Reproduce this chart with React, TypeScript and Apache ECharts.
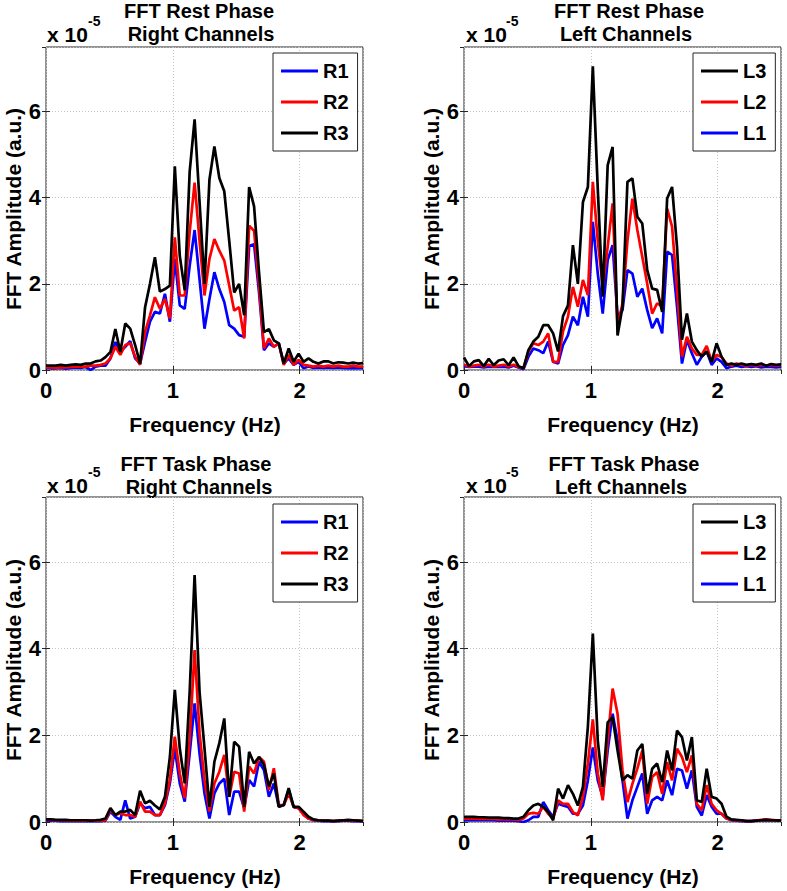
import React, { useEffect, useRef } from "react";
import * as echarts from "echarts";

// FFT bin frequencies (Hz)
const FREQS = [
  0, 0.039, 0.078, 0.117, 0.156, 0.195, 0.234, 0.273, 0.313, 0.352, 0.391, 0.43, 0.469,
  0.508, 0.547, 0.586, 0.625, 0.664, 0.703, 0.742, 0.781, 0.82, 0.859, 0.898, 0.938, 0.977,
  1.016, 1.055, 1.094, 1.133, 1.172, 1.211, 1.25, 1.289, 1.328, 1.367, 1.406, 1.445, 1.484,
  1.523, 1.563, 1.602, 1.641, 1.68, 1.719, 1.758, 1.797, 1.836, 1.875, 1.914, 1.953, 1.992,
  2.031, 2.07, 2.109, 2.148, 2.188, 2.227, 2.266, 2.305, 2.344, 2.383, 2.422, 2.461, 2.5,
];

// Amplitudes in units of 1e-5
const REST_R3 = [
  0.10, 0.10, 0.10, 0.12, 0.10, 0.12, 0.13, 0.12, 0.15, 0.15, 0.20, 0.22, 0.30,
  0.42, 0.95, 0.42, 1.08, 0.96, 0.58, 0.15, 1.45, 2.00, 2.62, 1.82, 1.88, 1.96,
  4.73, 2.65, 1.85, 4.60, 5.82, 3.90, 2.00, 4.42, 5.19, 4.46, 4.15, 3.00, 1.80,
  2.00, 1.27, 4.25, 3.80, 2.27, 0.88, 0.95, 0.69, 0.62, 0.15, 0.50, 0.19, 0.38,
  0.19, 0.27, 0.19, 0.15, 0.20, 0.20, 0.15, 0.18, 0.17, 0.15, 0.17, 0.15, 0.16,
];
const REST_R2 = [
  0.06, 0.06, 0.05, 0.06, 0.06, 0.07, 0.08, 0.08, 0.08, 0.10, 0.10, 0.12, 0.15,
  0.27, 0.54, 0.35, 0.58, 0.62, 0.31, 0.12, 0.88, 1.27, 1.69, 1.42, 1.65, 1.19,
  3.08, 1.73, 1.73, 3.20, 4.35, 3.00, 1.73, 2.58, 3.04, 2.77, 2.54, 1.96, 1.38,
  1.46, 0.73, 3.35, 3.23, 1.96, 0.50, 0.73, 0.54, 0.62, 0.12, 0.35, 0.12, 0.23,
  0.12, 0.10, 0.08, 0.10, 0.08, 0.10, 0.08, 0.10, 0.08, 0.08, 0.10, 0.08, 0.08,
];
const REST_R1 = [
  0.05, 0.04, 0.04, 0.05, 0.03, 0.05, 0.06, 0.05, 0.07, 0.00, 0.08, 0.10, 0.10,
  0.27, 0.65, 0.42, 0.54, 0.67, 0.27, 0.15, 0.65, 1.12, 1.35, 1.31, 1.77, 1.12,
  2.58, 1.50, 1.42, 2.42, 3.25, 2.10, 0.96, 1.65, 2.27, 1.88, 1.58, 1.04, 0.96,
  0.81, 0.77, 2.88, 2.92, 1.80, 0.46, 0.62, 0.54, 0.62, 0.15, 0.27, 0.12, 0.19,
  0.04, 0.08, 0.05, 0.06, 0.05, 0.06, 0.05, 0.06, 0.05, 0.04, 0.05, 0.04, 0.05,
];
const REST_L3 = [
  0.29, 0.09, 0.20, 0.23, 0.09, 0.26, 0.11, 0.22, 0.25, 0.11, 0.29, 0.09, 0.04,
  0.46, 0.66, 0.77, 1.04, 1.04, 0.85, 0.43, 1.25, 1.50, 2.90, 2.00, 3.90, 4.25,
  7.05, 4.20, 1.70, 4.75, 5.18, 0.80, 1.47, 4.37, 4.45, 3.56, 3.40, 2.32, 1.89,
  1.86, 1.35, 3.98, 4.25, 2.86, 0.70, 1.31, 0.66, 0.46, 0.31, 0.43, 0.19, 0.62,
  0.31, 0.12, 0.15, 0.12, 0.15, 0.12, 0.14, 0.12, 0.15, 0.10, 0.14, 0.12, 0.13,
];
const REST_L2 = [
  0.12, 0.08, 0.10, 0.12, 0.08, 0.12, 0.08, 0.10, 0.12, 0.08, 0.12, 0.07, 0.04,
  0.43, 0.62, 0.58, 0.66, 0.85, 0.19, 0.19, 0.90, 1.24, 1.93, 1.47, 2.09, 1.74,
  4.37, 3.00, 1.93, 2.86, 3.87, 1.00, 1.55, 3.00, 3.98, 3.25, 2.63, 2.00, 1.31,
  1.55, 1.47, 3.75, 3.33, 1.86, 0.31, 0.77, 0.50, 0.35, 0.35, 0.56, 0.20, 0.35,
  0.30, 0.15, 0.10, 0.15, 0.12, 0.10, 0.12, 0.10, 0.12, 0.10, 0.12, 0.10, 0.12,
];
const REST_L1 = [
  0.09, 0.07, 0.08, 0.08, 0.06, 0.08, 0.07, 0.07, 0.08, 0.06, 0.10, 0.06, 0.02,
  0.31, 0.50, 0.46, 0.39, 0.66, 0.19, 0.15, 0.58, 0.81, 1.24, 1.04, 1.70, 1.24,
  3.44, 2.24, 1.31, 2.55, 2.90, 1.24, 1.39, 2.32, 2.24, 1.70, 1.89, 1.39, 0.97,
  1.20, 0.85, 2.75, 2.67, 1.47, 0.15, 0.70, 0.39, 0.12, 0.31, 0.43, 0.12, 0.27,
  0.19, 0.04, 0.08, 0.10, 0.07, 0.09, 0.07, 0.09, 0.06, 0.08, 0.07, 0.06, 0.07,
];
const TASK_R3 = [
  0.06, 0.06, 0.05, 0.05, 0.05, 0.04, 0.04, 0.04, 0.04, 0.03, 0.04, 0.05, 0.08,
  0.32, 0.16, 0.24, 0.24, 0.28, 0.16, 0.72, 0.43, 0.49, 0.38, 0.29, 0.58, 1.50,
  3.05, 1.70, 0.89, 3.00, 5.70, 3.00, 1.70, 0.35, 1.39, 1.82, 2.39, 0.58, 1.85,
  1.74, 0.35, 1.62, 1.35, 1.50, 1.32, 0.82, 1.12, 0.35, 0.39, 0.78, 0.35, 0.35,
  0.24, 0.12, 0.06, 0.04, 0.03, 0.03, 0.02, 0.03, 0.04, 0.05, 0.04, 0.03, 0.02,
];
const TASK_R2 = [
  0.05, 0.05, 0.04, 0.04, 0.04, 0.03, 0.03, 0.03, 0.03, 0.03, 0.03, 0.03, 0.04,
  0.28, 0.16, 0.20, 0.16, 0.16, 0.12, 0.47, 0.24, 0.24, 0.16, 0.16, 0.43, 0.97,
  1.97, 1.12, 0.55, 1.90, 3.97, 2.05, 0.97, 0.24, 0.89, 1.16, 1.55, 0.58, 1.16,
  1.12, 0.24, 1.28, 1.12, 1.50, 1.39, 0.74, 1.24, 0.39, 0.39, 0.66, 0.35, 0.32,
  0.16, 0.08, 0.05, 0.04, 0.03, 0.03, 0.02, 0.03, 0.04, 0.04, 0.03, 0.03, 0.02,
];
const TASK_R1 = [
  0.03, 0.03, 0.03, 0.02, 0.02, 0.02, 0.02, 0.02, 0.02, 0.02, 0.02, 0.02, 0.03,
  0.24, 0.12, 0.05, 0.50, 0.08, 0.12, 0.43, 0.32, 0.35, 0.16, 0.16, 0.39, 0.89,
  1.70, 0.89, 0.47, 1.58, 2.74, 1.58, 0.66, 0.08, 0.66, 0.89, 1.00, 0.16, 0.70,
  0.70, 0.32, 0.97, 0.82, 1.39, 1.20, 0.58, 0.89, 0.35, 0.39, 0.74, 0.35, 0.32,
  0.20, 0.08, 0.04, 0.03, 0.02, 0.02, 0.02, 0.02, 0.03, 0.03, 0.02, 0.02, 0.02,
];
const TASK_L3 = [
  0.12, 0.12, 0.12, 0.11, 0.11, 0.10, 0.10, 0.10, 0.09, 0.09, 0.08, 0.08, 0.12,
  0.27, 0.38, 0.42, 0.35, 0.23, 0.04, 0.77, 0.54, 0.85, 0.65, 0.38, 0.81, 2.20,
  4.35, 1.88, 0.81, 2.30, 2.42, 1.65, 0.96, 1.08, 1.00, 1.65, 1.80, 0.65, 1.23,
  1.35, 0.92, 1.65, 1.19, 2.11, 1.96, 1.42, 1.96, 0.50, 0.46, 1.23, 0.58, 0.54,
  0.42, 0.12, 0.06, 0.05, 0.04, 0.02, 0.02, 0.03, 0.04, 0.05, 0.04, 0.04, 0.03,
];
const TASK_L2 = [
  0.08, 0.08, 0.08, 0.07, 0.07, 0.07, 0.07, 0.06, 0.06, 0.06, 0.06, 0.05, 0.08,
  0.19, 0.21, 0.19, 0.35, 0.19, 0.08, 0.50, 0.42, 0.42, 0.23, 0.15, 0.58, 1.35,
  2.37, 1.12, 0.50, 1.88, 3.08, 2.50, 1.19, 0.46, 0.88, 1.23, 1.65, 0.42, 1.04,
  1.15, 0.65, 1.38, 0.96, 1.69, 1.50, 1.15, 1.54, 0.42, 0.27, 0.85, 0.42, 0.27,
  0.19, 0.08, 0.05, 0.04, 0.03, 0.02, 0.02, 0.03, 0.05, 0.06, 0.05, 0.04, 0.03,
];
const TASK_L1 = [
  0.04, 0.04, 0.04, 0.04, 0.04, 0.04, 0.04, 0.03, 0.03, 0.03, 0.03, 0.02, 0.00,
  0.04, 0.12, 0.12, 0.46, 0.27, 0.12, 0.42, 0.38, 0.35, 0.19, 0.19, 0.38, 0.96,
  1.72, 0.96, 0.58, 1.65, 2.50, 1.88, 0.96, 0.08, 0.50, 0.81, 1.12, 0.19, 0.50,
  0.58, 0.50, 0.96, 0.62, 1.23, 1.19, 0.77, 1.19, 0.35, 0.15, 0.62, 0.35, 0.19,
  0.19, 0.08, 0.04, 0.03, 0.02, 0.02, 0.02, 0.03, 0.04, 0.05, 0.04, 0.03, 0.03,
];

const TITLES = [
  ["FFT Rest Phase", "Right Channels"],
  ["FFT Rest Phase", "Left Channels"],
  ["FFT Task Phase", "Right Channels"],
  ["FFT Task Phase", "Left Channels"],
];
const RIGHT_NAMES = ["R1", "R2", "R3"];
const LEFT_NAMES = ["L3", "L2", "L1"];
const X_NAME = "Frequency (Hz)";
const Y_NAME = "FFT Amplitude (a.u.)";
const X_MIN = 0, X_MAX = 2.5, X_STEP = 1;
const Y_MIN = 0, Y_MAX = 7.5, Y_STEP = 2;

const BLUE = "#0000ff";
const RED = "#ff0000";
const BLACK = "#000000";
const FONT = '"Liberation Sans", Arial, Helvetica, sans-serif';

const PANELS = [
  {
    grid: { left: 46, top: 47, width: 317, height: 323 },
    lines: [["R1", BLUE, REST_R1], ["R2", RED, REST_R2], ["R3", BLACK, REST_R3]],
    legend: RIGHT_NAMES, legendPos: [273, 53],
    t1: [199, 11], t2: [201, 34], x10: [47, 34], sup: [88, 21], yName: [13, 209], xName: [205, 424],
  },
  {
    grid: { left: 464, top: 47, width: 317, height: 323 },
    lines: [["L1", BLUE, REST_L1], ["L2", RED, REST_L2], ["L3", BLACK, REST_L3]],
    legend: LEFT_NAMES, legendPos: [693, 53],
    t1: [629, 11], t2: [626, 34], x10: [466, 34], sup: [506, 21], yName: [431, 209], xName: [623, 424],
  },
  {
    grid: { left: 46, top: 497, width: 317, height: 325 },
    lines: [["R1", BLUE, TASK_R1], ["R2", RED, TASK_R2], ["R3", BLACK, TASK_R3]],
    legend: RIGHT_NAMES, legendPos: [273, 504],
    t1: [196, 464], t2: [199, 487], x10: [47, 485], sup: [88, 472], yName: [13, 660], xName: [205, 876],
  },
  {
    grid: { left: 464, top: 497, width: 317, height: 325 },
    lines: [["L1", BLUE, TASK_L1], ["L2", RED, TASK_L2], ["L3", BLACK, TASK_L3]],
    legend: LEFT_NAMES, legendPos: [693, 504],
    t1: [624, 464], t2: [621, 487], x10: [466, 485], sup: [506, 472], yName: [431, 660], xName: [623, 876],
  },
];

function buildOption() {
  const grids: any[] = [];
  const xAxes: any[] = [];
  const yAxes: any[] = [];
  const series: any[] = [];
  const legends: any[] = [];
  const graphics: any[] = [];
  const tickLabel = { fontSize: 22, fontWeight: "bold", color: "#000", fontFamily: FONT };

  PANELS.forEach((p, gi) => {
    grids.push({ ...p.grid, show: true, borderColor: "#262626", borderWidth: 1, backgroundColor: "#fff", containLabel: false });
    xAxes.push({
      type: "value", gridIndex: gi, position: "bottom", min: X_MIN, max: X_MAX, interval: X_STEP,
      axisLine: { show: false },
      axisTick: { show: true, inside: true, length: 4, lineStyle: { color: "#262626" } },
      axisLabel: { ...tickLabel, margin: 9, showMaxLabel: false },
      splitLine: { show: true, lineStyle: { type: [1, 2], color: "#c4c4c4", width: 1 } },
    });
    xAxes.push({
      type: "value", gridIndex: gi, position: "top", min: X_MIN, max: X_MAX, interval: X_STEP,
      axisLine: { show: false },
      axisTick: { show: true, inside: true, length: 4, lineStyle: { color: "#262626" } },
      axisLabel: { show: false }, splitLine: { show: false },
    });
    yAxes.push({
      type: "value", gridIndex: gi, position: "left", min: Y_MIN, max: Y_MAX, interval: Y_STEP,
      axisLine: { show: false },
      axisTick: { show: true, inside: true, length: 4, lineStyle: { color: "#262626" } },
      axisLabel: { ...tickLabel, margin: 5, showMaxLabel: false },
      splitLine: { show: true, lineStyle: { type: [1, 2], color: "#c4c4c4", width: 1 } },
    });
    yAxes.push({
      type: "value", gridIndex: gi, position: "right", min: Y_MIN, max: Y_MAX, interval: Y_STEP,
      axisLine: { show: false },
      axisTick: { show: true, inside: true, length: 4, lineStyle: { color: "#262626" } },
      axisLabel: { show: false }, splitLine: { show: false },
    });
    p.lines.forEach(([name, color, vals]: any) => {
      series.push({
        type: "line", name, xAxisIndex: gi * 2, yAxisIndex: gi * 2,
        data: FREQS.map((f, i) => [f, vals[i]]),
        symbol: "none", showSymbol: false, color,
        itemStyle: { color },
        lineStyle: { color, width: 2.7 },
        emphasis: { disabled: true },
      });
    });
    legends.push({
      orient: "vertical", left: p.legendPos[0], top: p.legendPos[1], data: p.legend,
      icon: "rect", itemWidth: 37, itemHeight: 3, itemGap: 11,
      padding: [8, 9, 8, 8], backgroundColor: "#fff", borderColor: "#262626", borderWidth: 1,
      selectedMode: false,
      textStyle: { fontSize: 20, fontWeight: "bold", color: "#000", fontFamily: FONT, lineHeight: 20 },
    });
    const txt = (x: number, y: number, text: string, size: number, align = "center", rotation = 0) => ({
      type: "text", x, y, rotation, silent: true,
      style: { text, font: `bold ${size}px ${FONT}`, fill: "#000", align, verticalAlign: "middle" },
    });
    graphics.push(txt(p.t1[0], p.t1[1], TITLES[gi][0], 20));
    graphics.push(txt(p.t2[0], p.t2[1], TITLES[gi][1], 20));
    graphics.push(txt(p.x10[0], p.x10[1], "x 10", 21, "left"));
    graphics.push(txt(p.sup[0], p.sup[1], "-5", 14, "left"));
    graphics.push(txt(p.yName[0], p.yName[1], Y_NAME, 21, "center", Math.PI / 2));
    graphics.push(txt(p.xName[0], p.xName[1], X_NAME, 21));
  });

  return {
    animation: false,
    backgroundColor: "#fff",
    grid: grids,
    xAxis: xAxes,
    yAxis: yAxes,
    legend: legends,
    series,
    graphic: graphics,
  };
}

export default function App() {
  const ref = useRef<HTMLDivElement>(null);
  useEffect(() => {
    if (!ref.current) return;
    const chart = echarts.init(ref.current, undefined, { renderer: "svg" });
    chart.setOption(buildOption() as any);
    return () => chart.dispose();
  }, []);
  return (
    <div
      ref={ref}
      style={{ position: "absolute", left: 0, top: 0, width: 787, height: 891, background: "#fff" }}
    />
  );
}
